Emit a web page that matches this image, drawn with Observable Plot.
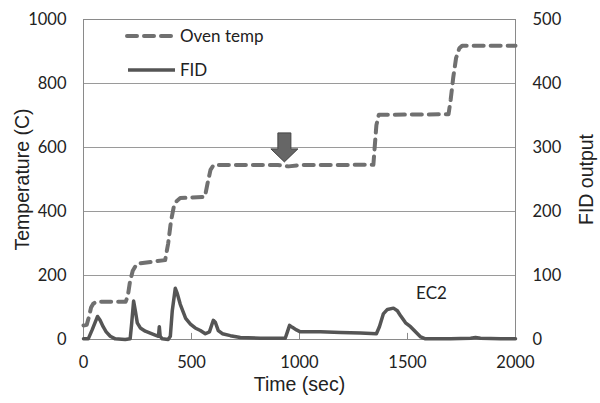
<!DOCTYPE html>
<html><head><meta charset="utf-8">
<script src="https://cdn.jsdelivr.net/npm/d3@7"></script>
<script src="https://cdn.jsdelivr.net/npm/@observablehq/plot@0.6"></script>
<style>
body{margin:0;background:#fff;}
#wrap{position:relative;width:600px;height:403px;font-family:Lato,sans-serif;}
#legend{position:absolute;left:0;top:0;pointer-events:none;}
</style></head><body>
<div id="wrap"></div>
<script>
// Oven temperature (left axis, °C)
const ovenTime = [0, 15, 25, 35, 45, 60, 195, 205, 215, 228, 245, 260, 330, 378, 392, 405, 418, 432, 448, 562, 575, 588, 602, 900, 950, 1000, 1342, 1348, 1356, 1367, 1690, 1700, 1712, 1725, 1740, 1753, 2000];
const ovenTemp = [44, 46, 70, 100, 112, 118, 118, 135, 180, 215, 234, 238, 244, 248, 300, 370, 415, 433, 442, 446, 490, 530, 545, 545, 541, 545, 546, 600, 670, 702, 704, 750, 820, 880, 910, 918, 918];

// FID output (right axis)
const fidTime = [0, 22, 40, 65, 77, 91, 105, 124, 147, 193, 216, 223, 232, 240, 249, 263, 286, 309, 332, 347, 351, 355, 365, 392, 402, 411, 425, 434, 448, 473, 495, 517, 541, 564, 583, 601, 610, 624, 643, 680, 726, 819, 934, 944, 954, 967, 986, 1004, 1097, 1190, 1282, 1356, 1370, 1388, 1407, 1435, 1453, 1468, 1491, 1514, 1537, 1561, 1583, 1699, 1792, 1815, 1838, 1931, 2000];
const fidValue = [1, 1, 15, 36, 30, 20, 12, 5, 1, 0, 1, 25, 60, 45, 26, 18, 13, 10, 7, 5, 20, 5, 1, 0, 5, 45, 80, 72, 55, 33, 24, 18, 14, 9, 12, 30, 27, 14, 9, 6, 3, 2, 2, 12, 22, 19, 15, 12, 12, 11, 10, 9, 20, 40, 47, 49, 45, 37, 26, 20, 12, 4, 1, 1, 2, 3, 2, 1, 1];

const xTicks = [0, 500, 1000, 1500, 2000];
const xInnerTicks = [500, 1000, 1500];
const tempTicks = [0, 200, 400, 600, 800, 1000];
const tempGrid = [200, 400, 600, 800];
const fidTicks = [0, 100, 200, 300, 400, 500];
const fidScale = 2; // FID axis max 500 aligned with temperature 1000

const arrowTime = [930];
const arrowTemp = [555];
const labelTime = [1611];
const labelTemp = [144];
const labelText = ["EC2"];

const oven = ovenTime.map((t, i) => ({t, v: ovenTemp[i]}));
const fid = fidTime.map((t, i) => ({t, v: fidValue[i] * fidScale}));
const arrowData = arrowTime.map((t, i) => ({t, v: arrowTemp[i]}));
const labels = labelTime.map((t, i) => ({t, v: labelTemp[i], s: labelText[i]}));

const arrowSymbol = {
  draw(ctx) {
    ctx.moveTo(-6.5, -29); ctx.lineTo(6.5, -29); ctx.lineTo(6.5, -13);
    ctx.lineTo(13.5, -13); ctx.lineTo(0, 0); ctx.lineTo(-13.5, -13);
    ctx.lineTo(-6.5, -13); ctx.closePath();
  }
};

const titleFont = "'Liberation Sans', Arial, sans-serif";

const chart = Plot.plot({
  width: 600, height: 403,
  marginLeft: 83, marginRight: 85, marginTop: 19, marginBottom: 64,
  style: {fontFamily: "Lato, sans-serif", fontSize: "16.5px", color: "#222", background: "white"},
  x: {domain: [0, 2000]},
  y: {domain: [0, 1000]},
  marks: [
    Plot.gridY(tempGrid, {stroke: "#9a9a9a", strokeOpacity: 1}),
    Plot.frame({stroke: "#8a8a8a"}),
    Plot.ruleX(xInnerTicks, {y1: 0, y2: 19, stroke: "#8a8a8a"}),
    Plot.axisX(xTicks, {tickSize: 0, tickPadding: 17, label: null, tickFormat: d => String(d), fill: "#222"}),
    Plot.axisY(tempTicks, {anchor: "left", tickSize: 0, tickPadding: 17, label: null, tickFormat: d => String(d), fill: "#222"}),
    Plot.axisY(fidTicks.map(d => d * fidScale), {anchor: "right", tickSize: 0, tickPadding: 17, label: null, tickFormat: d => String(d / fidScale), fill: "#222"}),
    Plot.line(fid, {x: "t", y: "v", stroke: "#555", strokeWidth: 3.5, strokeLinejoin: "round"}),
    Plot.line(oven, {x: "t", y: "v", stroke: "#707070", strokeWidth: 4, strokeDasharray: "10,7", strokeLinecap: "round"}),
    Plot.dot(arrowData, {x: "t", y: "v", symbol: arrowSymbol, fill: "#666", stroke: "#444", strokeWidth: 1}),
    Plot.text(labels, {x: "t", y: "v", text: "s", fontSize: 17, fill: "#222"}),
    Plot.text(["Temperature (C)"], {text: d => d, frameAnchor: "left", textAnchor: "middle", lineAnchor: "middle", rotate: -90, dx: -61, fontSize: 19.5, fontFamily: titleFont, fill: "#222"}),
    Plot.text(["FID output"], {text: d => d, frameAnchor: "right", textAnchor: "middle", lineAnchor: "middle", rotate: -90, dx: 71, fontSize: 19.5, fontFamily: titleFont, fill: "#222"}),
    Plot.text(["Time (sec)"], {text: d => d, frameAnchor: "bottom", textAnchor: "middle", lineAnchor: "middle", dy: 45, fontSize: 19.5, fontFamily: titleFont, fill: "#222"})
  ]
});
const wrap = document.getElementById("wrap");
wrap.appendChild(chart);

// Legend overlay
const ns = "http://www.w3.org/2000/svg";
const leg = document.createElementNS(ns, "svg");
leg.setAttribute("id", "legend");
leg.setAttribute("width", 600); leg.setAttribute("height", 403);
leg.innerHTML = `
<line x1="127" y1="36" x2="174" y2="36" stroke="#707070" stroke-width="4" stroke-dasharray="10,7" stroke-linecap="round"/>
<text x="180" y="36" dy="0.35em" font-family="Lato, sans-serif" font-size="17" fill="#222">Oven temp</text>
<line x1="128" y1="70" x2="175" y2="70" stroke="#555" stroke-width="3.5"/>
<text x="180" y="70" dy="0.35em" font-family="Lato, sans-serif" font-size="17" fill="#222">FID</text>`;
wrap.appendChild(leg);
</script>
</body></html>
